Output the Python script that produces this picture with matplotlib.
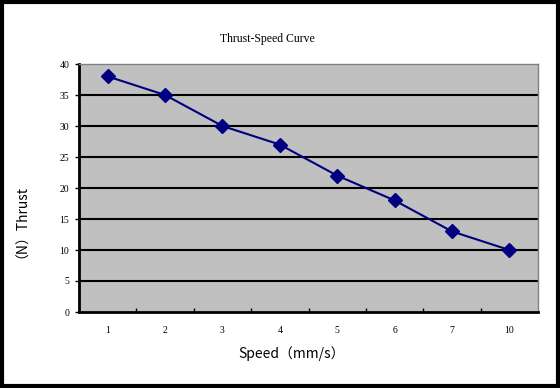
import matplotlib
matplotlib.use("Agg")
import matplotlib.pyplot as plt
from matplotlib.patches import Rectangle

categories = ["1", "2", "3", "4", "5", "6", "7", "10"]
thrust = [38, 35, 30, 27, 22, 18, 13, 10]
yticks = [0, 5, 10, 15, 20, 25, 30, 35, 40]

fig = plt.figure(figsize=(5.6, 3.88), dpi=100)
fig.patch.set_facecolor("white")
ax = fig.add_axes([79/560, 1-312/388, (538-79)/560, (312-64)/388])
ax.set_facecolor("#c0c0c0")

x = list(range(len(categories)))
ax.plot(x, thrust, color="#000080", lw=1.5, marker="D", markersize=7,
        markerfacecolor="#000080", markeredgecolor="#000080", zorder=3)

ax.set_xlim(-0.5, len(categories) - 0.5)
ax.set_ylim(0, 40)
ax.set_yticks(yticks)
ax.set_yticklabels([str(v) for v in yticks], family="Liberation Serif", fontsize=7)
ax.set_xticks(x)
ax.set_xticklabels(categories, family="Liberation Serif", fontsize=7)
ax.tick_params(axis="x", length=0, pad=10)
ax.set_xticks([i + 0.5 for i in x[:-1]], minor=True)
ax.tick_params(axis="x", which="minor", direction="in", length=3, width=1, color="black")
ax.tick_params(axis="y", length=3, width=1, pad=4)

for v in yticks[1:-1]:
    ax.axhline(v, color="black", lw=1.5, zorder=1)

ax.spines["left"].set_linewidth(2)
ax.spines["bottom"].set_linewidth(2)
ax.spines["top"].set_color("#808080")
ax.spines["right"].set_color("#808080")
ax.spines["top"].set_linewidth(1)
ax.spines["right"].set_linewidth(1)

fig.text(267/560, 1-39/388, "Thrust-Speed Curve", ha="center", va="center",
         family="Liberation Serif", fontsize=8.5)
fig.text(292/560, 1-354/388, "Speed（mm/s）", ha="center", va="center",
         family=["Noto Sans CJK SC", "DejaVu Sans"], fontsize=10)
fig.text(15/560, 1-218/388, "（N）Thrust", ha="center", va="center", rotation=90,
         family=["Noto Sans CJK SC", "DejaVu Sans"], fontsize=10)

fig.patches.append(Rectangle((0.003, 0.004), 0.994, 0.992, transform=fig.transFigure,
                             fill=False, edgecolor="black", lw=3))

fig.savefig("out.png", dpi=100)
